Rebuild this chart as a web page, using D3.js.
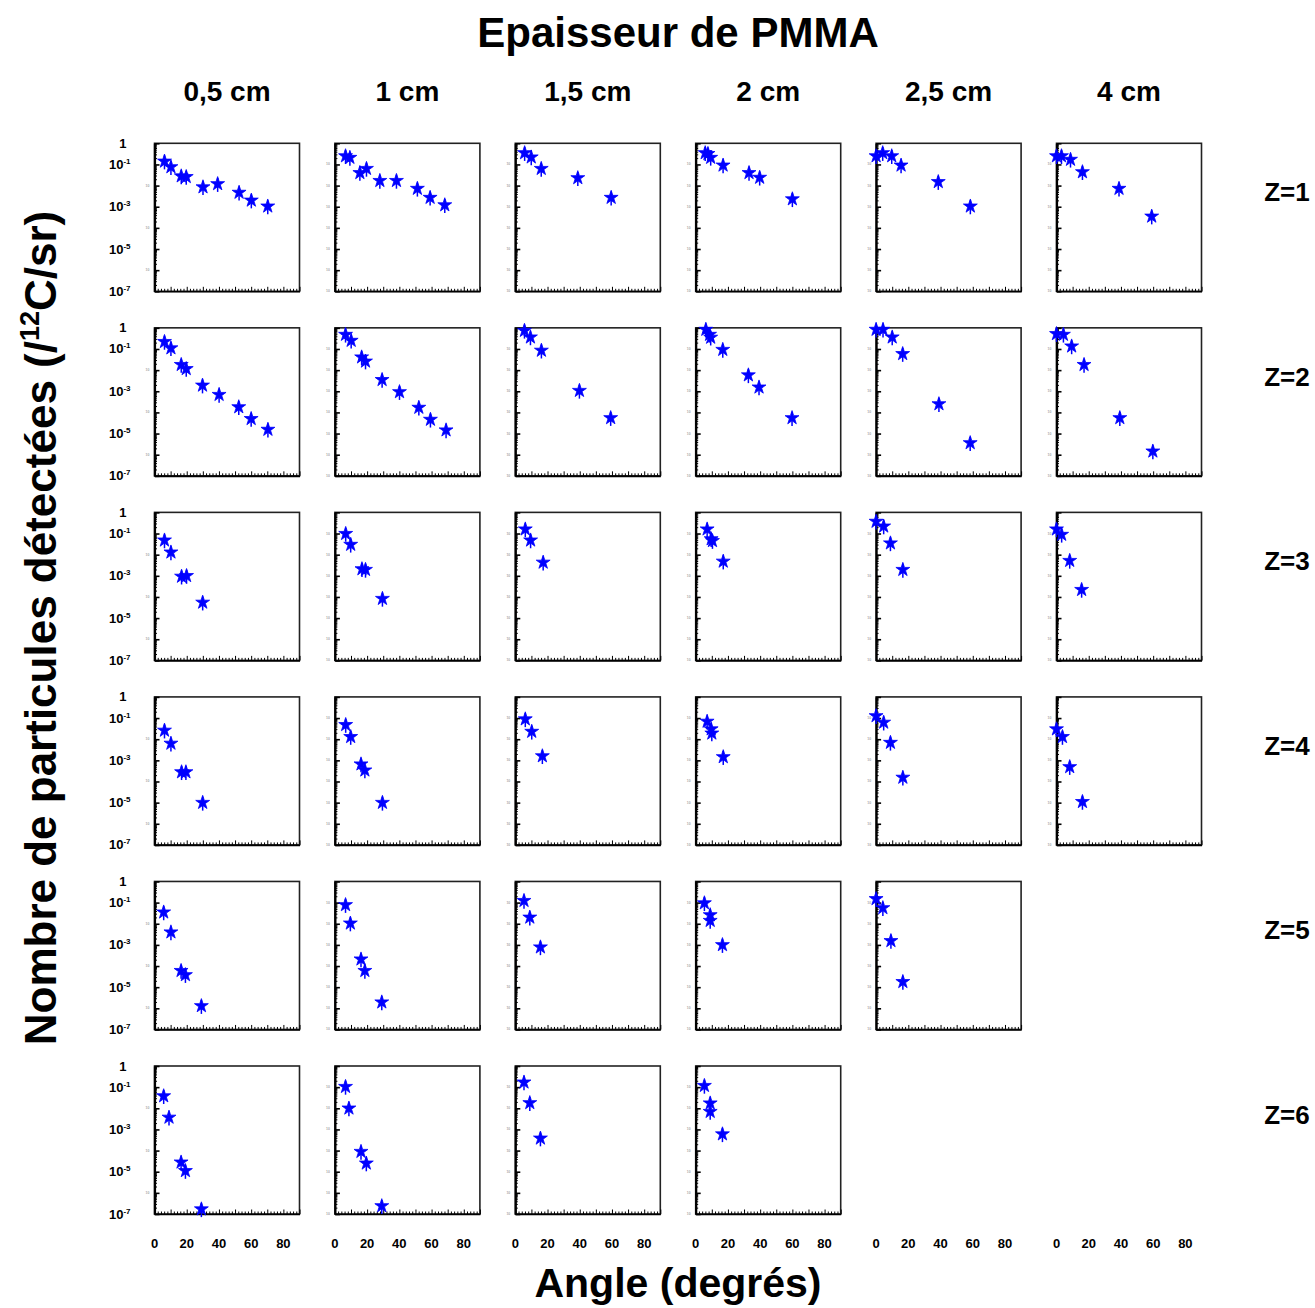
<!DOCTYPE html>
<html>
<head>
<meta charset="utf-8">
<script src="https://cdn.jsdelivr.net/npm/d3@7"></script>
<style>
  body { margin: 0; background: #fff; }
  text { font-family: "Liberation Sans", Arial, Helvetica, sans-serif; font-weight: bold; }
</style>
</head>
<body>
<div id="container"></div>
<script>
// épaisseurs de PMMA (colonnes) et charges (lignes)
const thicknesses = ["0,5 cm", "1 cm", "1,5 cm", "2 cm", "2,5 cm", "4 cm"];
const charges = ["Z=1", "Z=2", "Z=3", "Z=4", "Z=5", "Z=6"];
const xTickLabels = [0, 20, 40, 60, 80];
const yLabelExp = [0, -1, -3, -5, -7];

// angles (degrés) et nombres de particules, un tableau par épaisseur
const anglesZ1 = [
  [6.2, 10.2, 16.6, 19.7, 30.1, 39.2, 52.5, 60.1, 70.3],
  [6.6, 9.3, 15.5, 19.6, 27.9, 38.2, 51.2, 59.1, 68.2],
  [5.8, 9.9, 16.1, 38.8, 59.5],
  [5.9, 7.6, 9.3, 17.0, 33.1, 39.7, 60.0],
  [0, 4.1, 9.7, 15.5, 38.6, 58.5],
  [0, 3.1, 8.7, 16.1, 38.8, 59.1]
];
const valuesZ1 = [
  [1.4e-1, 7.6e-2, 2.8e-2, 2.6e-2, 8.5e-3, 1.2e-2, 4.7e-3, 2.0e-3, 1.05e-3],
  [2.5e-1, 2.1e-1, 4.0e-2, 6.3e-2, 1.7e-2, 1.7e-2, 7.2e-3, 2.7e-3, 1.2e-3],
  [3.5e-1, 2.2e-1, 6.3e-2, 2.3e-2, 2.7e-3],
  [3.5e-1, 3.2e-1, 2.1e-1, 9.1e-2, 4.0e-2, 2.4e-2, 2.3e-3],
  [2.5e-1, 3.5e-1, 2.5e-1, 9.1e-2, 1.5e-2, 1.05e-3],
  [2.5e-1, 2.5e-1, 1.7e-1, 4.4e-2, 7.2e-3, 3.5e-4]
];
const anglesZ2 = [
  [6.2, 10.2, 16.6, 19.7, 29.8, 40.1, 52.3, 60.0, 70.4],
  [6.6, 10.1, 16.6, 19.0, 29.3, 40.1, 52.1, 59.3, 69.0],
  [5.7, 9.4, 16.2, 39.8, 59.2],
  [6.3, 8.6, 9.3, 16.8, 32.7, 39.3, 59.8],
  [0, 4.3, 10.0, 16.5, 39.0, 58.4],
  [0, 4.3, 9.4, 17.1, 39.3, 59.8]
];
const valuesZ2 = [
  [2.2e-1, 1.1e-1, 1.8e-2, 1.15e-2, 1.9e-3, 6.9e-4, 1.8e-4, 5.0e-5, 1.55e-5],
  [4.8e-1, 2.5e-1, 4.1e-2, 2.6e-2, 3.5e-3, 9.3e-4, 1.7e-4, 4.6e-5, 1.45e-5],
  [7.4e-1, 3.6e-1, 8.5e-2, 1.07e-3, 5.5e-5],
  [8.3e-1, 4.8e-1, 3.5e-1, 9.3e-2, 5.8e-3, 1.55e-3, 5.5e-5],
  [8.3e-1, 8.3e-1, 3.6e-1, 5.9e-2, 2.5e-4, 3.6e-6],
  [5.2e-1, 4.8e-1, 1.35e-1, 1.8e-2, 5.5e-5, 1.45e-6]
];
const anglesZ3 = [
  [6.2, 10.2, 16.8, 19.9, 29.9],
  [6.7, 9.8, 16.8, 19.0, 29.5],
  [6.2, 9.5, 17.3],
  [7.1, 9.6, 10.4, 17.1],
  [0, 4.7, 8.9, 16.6],
  [0, 3.2, 8.2, 15.6]
];
const valuesZ3 = [
  [4.8e-2, 1.3e-2, 9.3e-4, 1.0e-3, 5.5e-5],
  [9.8e-2, 3.0e-2, 2.1e-3, 1.95e-3, 8.3e-5],
  [1.6e-1, 4.8e-2, 4.3e-3],
  [1.6e-1, 5.5e-2, 4.5e-2, 4.8e-3],
  [3.7e-1, 2.2e-1, 3.5e-2, 1.95e-3],
  [1.6e-1, 8.9e-2, 5.2e-3, 2.2e-4]
];
const anglesZ4 = [
  [6.2, 10.2, 16.8, 19.5, 29.9],
  [6.7, 9.8, 16.2, 18.6, 29.5],
  [6.2, 10.2, 16.8],
  [7.1, 9.6, 10.0, 17.1],
  [0, 4.7, 8.9, 16.6],
  [0, 3.7, 8.2, 16.1]
];
const valuesZ4 = [
  [2.6e-2, 6.3e-3, 2.8e-4, 2.8e-4, 1.0e-5],
  [4.8e-2, 1.3e-2, 6.6e-4, 3.4e-4, 1.0e-5],
  [8.9e-2, 2.3e-2, 1.6e-3],
  [6.9e-2, 3.0e-2, 1.9e-2, 1.45e-3],
  [1.26e-1, 6.2e-2, 6.9e-3, 1.55e-4],
  [3.0e-2, 1.3e-2, 4.9e-4, 1.1e-5]
];
const anglesZ5 = [
  [5.7, 10.2, 16.5, 19.2, 29.1],
  [6.6, 9.6, 16.2, 18.6, 29.1],
  [5.4, 9.0, 15.6],
  [5.4, 9.0, 9.0, 16.6],
  [0, 4.2, 9.2, 16.6]
];
const valuesZ5 = [
  [3.5e-2, 4.0e-3, 6.0e-5, 3.8e-5, 1.3e-6],
  [7.8e-2, 1.05e-2, 2.1e-4, 6.0e-5, 1.95e-6],
  [1.23e-1, 2.0e-2, 7.8e-4],
  [9.5e-2, 2.6e-2, 1.4e-2, 1.0e-3],
  [1.5e-1, 5.6e-2, 1.55e-3, 1.8e-5]
];
const anglesZ6 = [
  [5.7, 9.0, 16.5, 19.2, 29.1],
  [6.6, 8.7, 16.2, 19.5, 29.1],
  [5.4, 9.0, 15.6],
  [5.4, 9.0, 9.0, 16.6]
];
const valuesZ6 = [
  [3.8e-2, 3.7e-3, 2.8e-5, 1.1e-5, 1.7e-7],
  [1.05e-1, 1.0e-2, 8.9e-5, 2.5e-5, 2.4e-7],
  [1.7e-1, 1.8e-2, 3.8e-4],
  [1.17e-1, 1.74e-2, 6.9e-3, 6.0e-4]
];

const allAngles = [anglesZ1, anglesZ2, anglesZ3, anglesZ4, anglesZ5, anglesZ6];
const allValues = [valuesZ1, valuesZ2, valuesZ3, valuesZ4, valuesZ5, valuesZ6];

const WIDTH = 1315, HEIGHT = 1308;
const PW = 145, PH = 148;

const svg = d3.select("#container").append("svg")
  .attr("width", WIDTH).attr("height", HEIGHT);

const colLeft = d3.scaleLinear().domain([0, 5]).range([154.5, 1056.5]);
const rowTop = d3.scaleLinear().domain([0, 5]).range([143.3, 1066]);

const x = d3.scaleLinear().domain([0, 90]).range([0, PW]);
const y = d3.scaleLog().domain([1e-7, 1]).range([PH, 0]);

const decades = d3.range(0, -8, -1).map(e => Math.pow(10, e));
const minorY = [];
for (let e = -7; e < 0; e++) for (let m = 2; m <= 9; m++) minorY.push(m * Math.pow(10, e));
const majorX = d3.range(0, 91, 10);
const minorX = d3.range(0, 91, 2).filter(v => v % 10 !== 0);

const star = d3.symbol().type(d3.symbolStar).size(60);

allAngles.forEach((rowA, r) => {
  rowA.forEach((angles, c) => {
    const vals = allValues[r][c];
    const g = svg.append("g")
      .attr("transform", `translate(${colLeft(c)},${rowTop(r)})`);

    g.append("rect")
      .attr("width", PW).attr("height", PH)
      .attr("fill", "#fff").attr("stroke", "#222").attr("stroke-width", 1.6);

    // ticks en bas (vers l'intérieur)
    g.append("g").attr("transform", `translate(0,${PH})`)
      .call(d3.axisBottom(x).tickValues(majorX).tickSize(-4.5).tickSizeOuter(0).tickFormat(""))
      .call(a => a.select(".domain").attr("stroke-width", 1.6));
    g.append("g").attr("transform", `translate(0,${PH})`)
      .call(d3.axisBottom(x).tickValues(minorX).tickSize(-2.5).tickSizeOuter(0).tickFormat(""))
      .call(a => a.select(".domain").remove());

    // ticks à gauche (log)
    g.append("g")
      .call(d3.axisLeft(y).tickValues(decades).tickSize(-5).tickSizeOuter(0).tickFormat(""))
      .call(a => a.selectAll(".tick line").attr("stroke-width", 1.6))
      .call(a => a.select(".domain").attr("stroke-width", 2.2));
    g.append("g")
      .call(d3.axisLeft(y).tickValues(minorY).tickSize(-2.5).tickSizeOuter(0).tickFormat(""))
      .call(a => a.select(".domain").remove());

    // étiquettes minuscules (grises)
    const tiny = c === 0 ? [1e-2, 1e-4, 1e-6] : decades.slice(1);
    g.selectAll("text.tiny").data(tiny).enter().append("text")
      .attr("class", "tiny")
      .attr("x", -5).attr("y", d => y(d) + 1)
      .attr("text-anchor", "end")
      .attr("font-size", 3.5).attr("fill", "#aaa")
      .text("10");

    // étiquettes de la première colonne
    if (c === 0) {
      yLabelExp.forEach(e => {
        const t = g.append("text")
          .attr("x", e === 0 ? -28 : -24).attr("y", y(Math.pow(10, e)) + 4.5)
          .attr("text-anchor", "end").attr("font-size", 13).attr("fill", "#000");
        if (e === 0) {
          t.text("1");
        } else {
          t.append("tspan").text("10");
          t.append("tspan").attr("font-size", 8).attr("dy", -5).text(String(e));
        }
      });
    }

    // points
    const pts = angles.map((a, i) => ({ a: a, v: vals[i] }));
    g.selectAll("line.err").data(pts).enter().append("line")
      .attr("class", "err")
      .attr("x1", d => x(d.a)).attr("x2", d => x(d.a))
      .attr("y1", d => y(d.v) - 6).attr("y2", d => y(d.v) + 8)
      .attr("stroke", "#0000ff").attr("stroke-width", 1.5);
    g.selectAll("path.pt").data(pts).enter().append("path")
      .attr("class", "pt")
      .attr("transform", d => `translate(${x(d.a)},${y(d.v)})`)
      .attr("d", star)
      .attr("fill", "#0000ff")
      .attr("stroke", "#0000ff").attr("stroke-width", 0.8).attr("stroke-linejoin", "round");
  });
});

// étiquettes de l'axe des angles
thicknesses.forEach((t, c) => {
  svg.append("g").selectAll("text").data(xTickLabels).enter().append("text")
    .attr("x", d => colLeft(c) + x(d))
    .attr("y", 1248)
    .attr("text-anchor", "middle")
    .attr("font-size", 13)
    .text(d => d);
});

// en-têtes de colonnes
svg.append("g").selectAll("text").data(thicknesses).enter().append("text")
  .attr("x", (d, i) => colLeft(i) + PW / 2)
  .attr("y", 101)
  .attr("text-anchor", "middle")
  .attr("font-size", 28)
  .text(d => d);

// étiquettes de lignes
svg.append("g").selectAll("text").data(charges).enter().append("text")
  .attr("x", 1287)
  .attr("y", (d, i) => rowTop(i) + 58)
  .attr("text-anchor", "middle")
  .attr("font-size", 26)
  .text(d => d);

svg.append("text")
  .attr("x", 678).attr("y", 47)
  .attr("text-anchor", "middle").attr("font-size", 42)
  .text("Epaisseur de PMMA");

svg.append("text")
  .attr("x", 678).attr("y", 1297)
  .attr("text-anchor", "middle").attr("font-size", 41)
  .text("Angle (degrés)");

const yt = svg.append("text")
  .attr("transform", "translate(56,628) rotate(-90)")
  .attr("text-anchor", "middle").attr("font-size", 44);
yt.append("tspan").text("Nombre de particules détectées (/");
yt.append("tspan").attr("font-size", 27).attr("dy", -17).text("12");
yt.append("tspan").attr("dy", 17).text("C/sr)");
</script>
</body>
</html>
